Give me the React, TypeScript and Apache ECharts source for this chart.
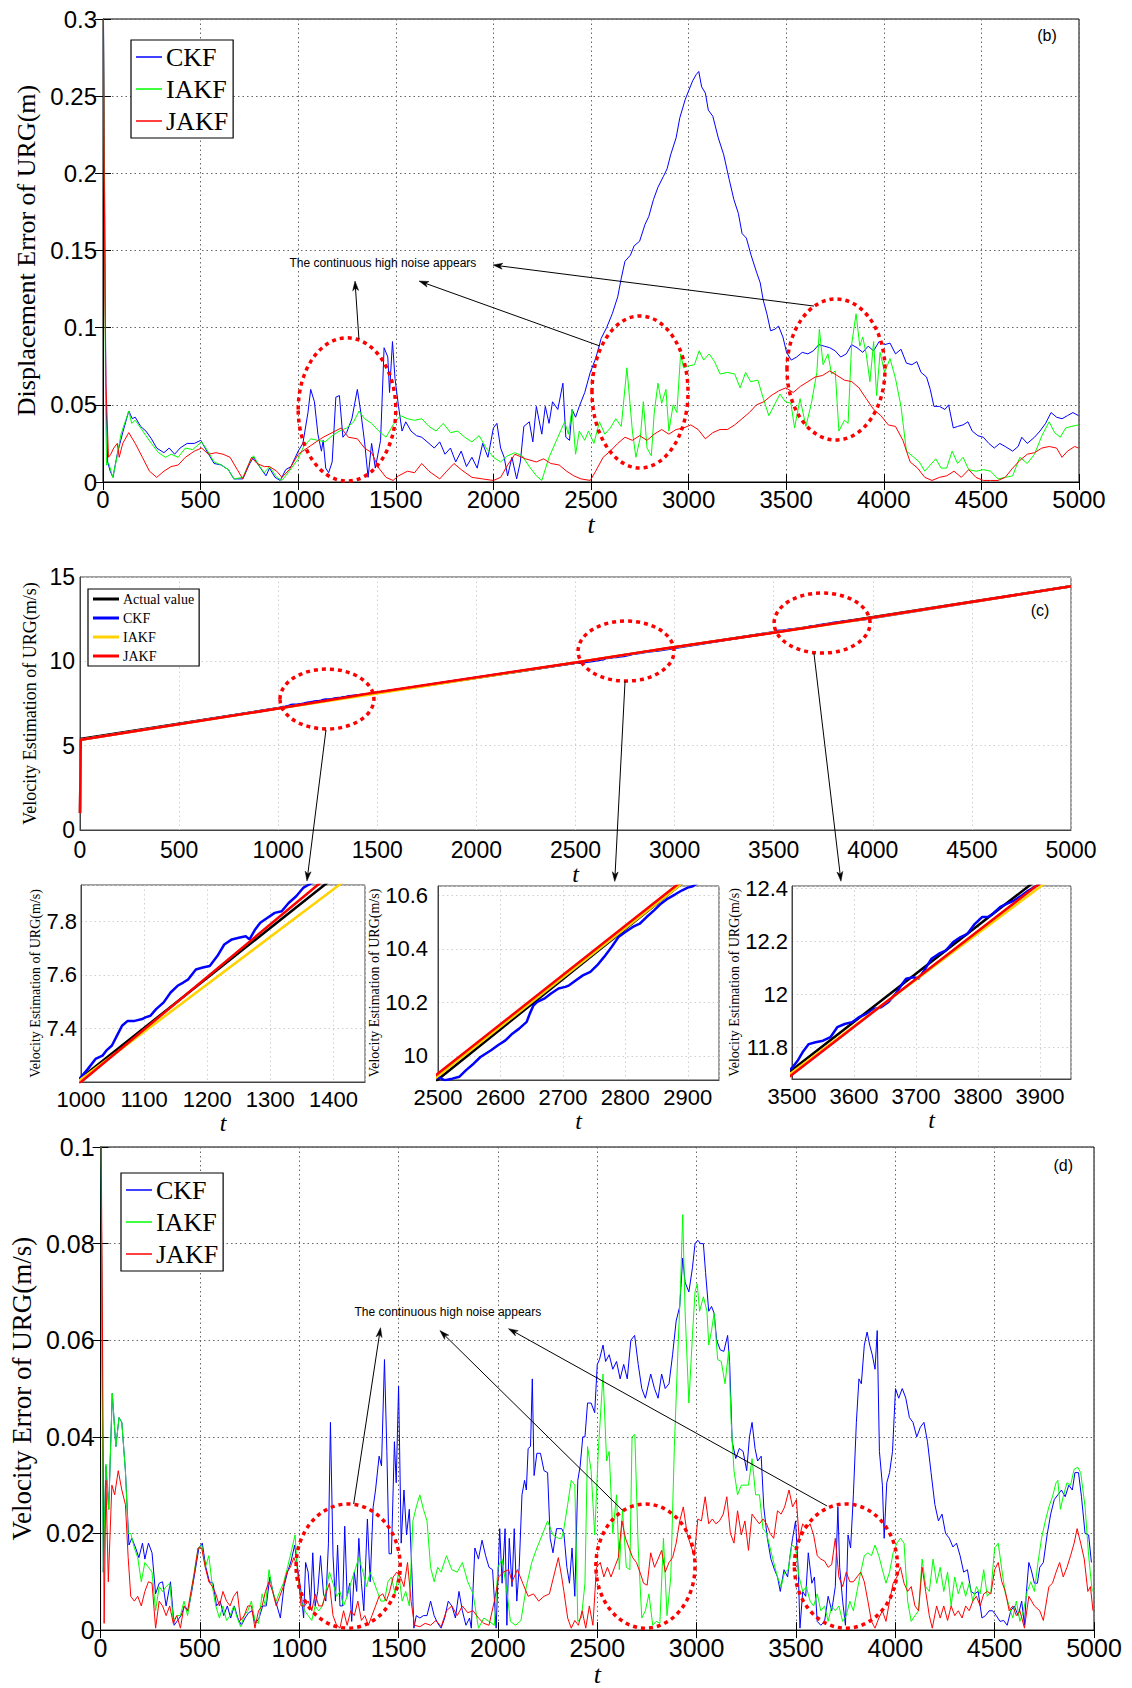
import React, { useEffect, useRef } from "react";
import * as echarts from "echarts";

type Pt = [number, number];

// ---------------- Panel (b): displacement error of URG (m) ----------------
const ckfDisp: Pt[] = [[0,0.35],[15,0.056],[24,0.013],[37,0.007],[51,0.003],[73,0.018],[101,0.032],[132,0.046],[150,0.041],[165,0.042],[193,0.036],[220,0.033],[248,0.028],[275,0.022],[312,0.019],[339,0.022],[367,0.018],[395,0.022],[431,0.025],[468,0.025],[501,0.027],[532,0.020],[569,0.012],[606,0.011],[642,0.008],[670,0.002],[716,0.002],[752,0.012],[771,0.016],[807,0.009],[835,0.004],[853,0.009],[881,0.003],[908,0.001],[936,0.008],[963,0.010],[1000,0.020],[1024,0.025],[1037,0.035],[1050,0.045],[1064,0.060],[1083,0.052],[1101,0.031],[1119,0.020],[1128,0.027],[1141,0.009],[1156,0.006],[1174,0.013],[1193,0.055],[1211,0.056],[1229,0.029],[1248,0.032],[1275,0.041],[1303,0.060],[1321,0.045],[1340,0.026],[1358,0.003],[1376,0.025],[1395,0.009],[1422,0.027],[1440,0.087],[1459,0.081],[1468,0.058],[1483,0.091],[1496,0.067],[1514,0.049],[1532,0.033],[1551,0.039],[1578,0.033],[1606,0.030],[1633,0.029],[1670,0.025],[1697,0.022],[1725,0.026],[1752,0.018],[1780,0.022],[1807,0.013],[1835,0.020],[1862,0.010],[1890,0.016],[1917,0.009],[1945,0.025],[1972,0.016],[2000,0.035],[2018,0.038],[2037,0.022],[2055,0.016],[2073,0.004],[2095,0.016],[2119,0.002],[2138,0.013],[2156,0.036],[2184,0.039],[2202,0.026],[2220,0.049],[2248,0.031],[2266,0.049],[2285,0.038],[2303,0.052],[2330,0.047],[2356,0.064],[2371,0.029],[2390,0.027],[2403,0.047],[2421,0.042],[2440,0.049],[2468,0.058],[2496,0.071],[2524,0.080],[2552,0.093],[2580,0.100],[2609,0.109],[2637,0.120],[2655,0.132],[2674,0.143],[2702,0.147],[2721,0.153],[2749,0.156],[2777,0.167],[2796,0.172],[2820,0.183],[2843,0.191],[2871,0.198],[2890,0.203],[2908,0.212],[2936,0.223],[2955,0.236],[2983,0.248],[3002,0.254],[3021,0.260],[3039,0.264],[3052,0.266],[3067,0.256],[3086,0.252],[3101,0.241],[3124,0.237],[3152,0.223],[3180,0.212],[3208,0.196],[3232,0.183],[3255,0.174],[3274,0.161],[3296,0.158],[3320,0.147],[3348,0.136],[3367,0.129],[3382,0.118],[3401,0.109],[3420,0.098],[3442,0.099],[3461,0.101],[3483,0.094],[3502,0.084],[3526,0.079],[3554,0.081],[3582,0.084],[3611,0.083],[3639,0.085],[3667,0.089],[3695,0.088],[3723,0.087],[3751,0.085],[3779,0.081],[3808,0.083],[3835,0.089],[3863,0.087],[3892,0.084],[3920,0.088],[3948,0.085],[3976,0.091],[4004,0.089],[4032,0.090],[4060,0.083],[4088,0.086],[4116,0.077],[4144,0.076],[4169,0.078],[4191,0.071],[4219,0.068],[4238,0.060],[4257,0.049],[4285,0.049],[4313,0.047],[4332,0.050],[4356,0.035],[4378,0.036],[4406,0.037],[4431,0.039],[4453,0.033],[4482,0.030],[4510,0.029],[4538,0.025],[4566,0.022],[4594,0.025],[4622,0.023],[4660,0.020],[4688,0.023],[4707,0.029],[4735,0.025],[4772,0.029],[4800,0.033],[4829,0.038],[4857,0.045],[4885,0.042],[4913,0.041],[4941,0.043],[4969,0.045],[4997,0.043]];

const iakfDisp: Pt[] = [[0,0.35],[13,0.058],[18,0.011],[30,0.012],[50,0.003],[70,0.015],[92,0.031],[119,0.041],[132,0.046],[147,0.038],[165,0.040],[193,0.035],[220,0.030],[248,0.025],[284,0.019],[321,0.016],[349,0.018],[385,0.016],[422,0.022],[459,0.021],[505,0.026],[532,0.021],[569,0.013],[606,0.011],[642,0.008],[670,0.002],[716,0.003],[752,0.013],[771,0.017],[798,0.011],[826,0.006],[853,0.010],[890,0.003],[917,0.001],[954,0.007],[1000,0.015],[1028,0.023],[1064,0.028],[1101,0.027],[1138,0.026],[1174,0.030],[1211,0.033],[1248,0.035],[1284,0.039],[1312,0.046],[1340,0.041],[1376,0.038],[1413,0.033],[1450,0.029],[1486,0.037],[1523,0.043],[1560,0.041],[1596,0.040],[1633,0.041],[1670,0.036],[1706,0.033],[1743,0.038],[1780,0.032],[1817,0.033],[1853,0.029],[1890,0.026],[1927,0.030],[1963,0.022],[2000,0.016],[2037,0.013],[2073,0.017],[2110,0.019],[2147,0.017],[2184,0.010],[2220,0.004],[2248,0.001],[2285,0.016],[2330,0.029],[2365,0.039],[2384,0.031],[2403,0.047],[2421,0.018],[2440,0.033],[2468,0.027],[2487,0.033],[2515,0.025],[2543,0.039],[2571,0.031],[2599,0.035],[2627,0.041],[2655,0.036],[2684,0.074],[2712,0.033],[2730,0.016],[2753,0.029],[2768,0.052],[2787,0.022],[2809,0.017],[2824,0.045],[2843,0.064],[2862,0.051],[2884,0.060],[2899,0.033],[2921,0.050],[2940,0.045],[2959,0.083],[2974,0.074],[2993,0.075],[3030,0.076],[3054,0.085],[3077,0.079],[3105,0.083],[3133,0.078],[3161,0.070],[3199,0.071],[3236,0.070],[3264,0.061],[3292,0.071],[3318,0.065],[3355,0.066],[3383,0.054],[3411,0.043],[3440,0.050],[3468,0.057],[3496,0.052],[3524,0.051],[3543,0.035],[3571,0.054],[3601,0.036],[3629,0.051],[3657,0.071],[3670,0.099],[3689,0.076],[3714,0.083],[3732,0.070],[3751,0.072],[3770,0.033],[3798,0.040],[3817,0.038],[3835,0.089],[3858,0.109],[3877,0.088],[3892,0.094],[3910,0.083],[3929,0.065],[3948,0.091],[3963,0.056],[3981,0.084],[4004,0.071],[4032,0.080],[4060,0.067],[4088,0.049],[4116,0.020],[4154,0.016],[4182,0.013],[4210,0.007],[4238,0.011],[4266,0.015],[4294,0.009],[4322,0.009],[4350,0.020],[4378,0.012],[4406,0.016],[4435,0.008],[4472,0.007],[4510,0.008],[4547,0.007],[4585,0.002],[4622,0.003],[4660,0.004],[4697,0.016],[4735,0.012],[4772,0.018],[4810,0.030],[4847,0.039],[4875,0.032],[4904,0.029],[4932,0.035],[4960,0.036],[4997,0.037]];

const jakfDisp: Pt[] = [[0,0.35],[10,0.12],[15,0.064],[28,0.016],[40,0.018],[55,0.022],[73,0.025],[83,0.016],[101,0.025],[132,0.032],[165,0.025],[202,0.016],[238,0.007],[275,0.003],[312,0.007],[349,0.010],[385,0.011],[422,0.016],[468,0.020],[505,0.022],[541,0.018],[578,0.019],[615,0.018],[651,0.016],[688,0.008],[716,0.002],[761,0.016],[789,0.012],[826,0.010],[853,0.010],[890,0.007],[917,0.003],[954,0.008],[1000,0.018],[1046,0.022],[1092,0.026],[1128,0.029],[1174,0.032],[1220,0.035],[1257,0.029],[1303,0.028],[1340,0.022],[1376,0.019],[1413,0.009],[1450,0.003],[1486,0.001],[1514,0.004],[1560,0.007],[1596,0.006],[1633,0.012],[1670,0.007],[1725,0.002],[1761,0.007],[1798,0.012],[1835,0.008],[1890,0.003],[1945,0.002],[2000,0.001],[2037,0.003],[2073,0.011],[2110,0.018],[2165,0.015],[2220,0.013],[2257,0.015],[2294,0.012],[2337,0.011],[2375,0.007],[2412,0.004],[2449,0.002],[2496,0.001],[2524,0.007],[2562,0.016],[2599,0.020],[2637,0.025],[2674,0.029],[2712,0.027],[2749,0.030],[2787,0.027],[2824,0.031],[2862,0.034],[2899,0.031],[2936,0.034],[2974,0.035],[3011,0.037],[3049,0.034],[3086,0.028],[3124,0.032],[3161,0.034],[3199,0.034],[3236,0.037],[3274,0.041],[3311,0.045],[3348,0.050],[3386,0.052],[3423,0.056],[3461,0.059],[3498,0.061],[3536,0.058],[3573,0.062],[3611,0.065],[3648,0.068],[3686,0.069],[3723,0.072],[3761,0.069],[3798,0.066],[3836,0.065],[3873,0.061],[3910,0.054],[3948,0.047],[3985,0.043],[4023,0.037],[4060,0.036],[4098,0.027],[4135,0.013],[4173,0.009],[4210,0.003],[4247,0.001],[4285,0.003],[4322,0.004],[4360,0.007],[4397,0.003],[4435,0.008],[4472,0.003],[4510,0.001],[4547,0.001],[4585,0.001],[4622,0.003],[4660,0.009],[4697,0.014],[4735,0.018],[4772,0.019],[4810,0.022],[4847,0.023],[4885,0.022],[4913,0.016],[4941,0.020],[4978,0.023],[4997,0.022]];

// ---------------- Panel (c): velocity estimation of URG (m/s) ----------------
const actualVel: Pt[] = [[0,5.4],[1000,7.215],[1450,8.055],[2500,9.912],[2885,10.634],[3500,11.714],[3882,12.41],[5000,14.45]];
const ckfVel: Pt[] = [[0,1.0],[4,5.35],[1000,7.218],[1011,7.249],[1023,7.286],[1034,7.298],[1040,7.317],[1049,7.336],[1057,7.373],[1065,7.41],[1074,7.428],[1085,7.428],[1097,7.435],[1102,7.441],[1110,7.447],[1119,7.472],[1131,7.497],[1142,7.534],[1153,7.559],[1162,7.571],[1170,7.583],[1182,7.62],[1193,7.627],[1204,7.633],[1216,7.67],[1227,7.713],[1239,7.732],[1250,7.738],[1261,7.744],[1267,7.732],[1276,7.769],[1284,7.794],[1295,7.812],[1307,7.831],[1318,7.837],[1329,7.868],[1341,7.893],[1352,7.924],[1360,7.935],[1450,8.05],[2500,9.922],[2511,9.909],[2523,9.915],[2534,9.922],[2545,9.947],[2557,9.971],[2568,9.996],[2585,10.021],[2596,10.04],[2608,10.058],[2619,10.083],[2630,10.102],[2642,10.127],[2647,10.158],[2653,10.189],[2659,10.202],[2670,10.214],[2681,10.233],[2693,10.252],[2704,10.258],[2710,10.264],[2721,10.283],[2732,10.301],[2744,10.314],[2755,10.339],[2766,10.37],[2778,10.407],[2789,10.444],[2800,10.463],[2812,10.482],[2823,10.494],[2834,10.519],[2846,10.544],[2857,10.569],[2868,10.588],[2880,10.604],[2891,10.619],[2900,10.629],[2908,10.634],[2950,10.7],[3500,11.722],[3509,11.749],[3517,11.781],[3527,11.812],[3538,11.819],[3550,11.825],[3562,11.838],[3573,11.876],[3585,11.888],[3597,11.895],[3608,11.914],[3620,11.926],[3632,11.945],[3643,11.951],[3655,11.97],[3667,12.002],[3678,12.04],[3684,12.059],[3696,12.065],[3704,12.059],[3713,12.09],[3725,12.135],[3737,12.154],[3748,12.166],[3760,12.198],[3772,12.217],[3783,12.229],[3795,12.267],[3807,12.293],[3816,12.293],[3824,12.305],[3836,12.331],[3847,12.343],[3859,12.356],[3871,12.375],[3882,12.394],[3894,12.41],[3950,12.48],[5000,14.45]];
const iakfVel: Pt[] = [[0,1.0],[4,5.35],[1000,7.21],[1409,7.935],[1450,8.01],[2500,9.925],[2885,10.634],[2950,10.75],[3500,11.705],[3902,12.41],[3950,12.49],[5000,14.45]];
const jakfVel: Pt[] = [[0,1.0],[4,5.35],[1000,7.2],[1375,7.935],[1450,8.08],[2500,9.934],[2880,10.634],[2950,10.76],[3500,11.696],[3894,12.41],[3950,12.51],[5000,14.45]];

// ---------------- Panel (d): velocity error of URG (m/s) ----------------
const ckfVelErr: Pt[] = [[0,0.12],[14,0.012],[27,0.034],[41,0.025],[59,0.049],[77,0.038],[93,0.044],[107,0.043],[125,0.033],[143,0.0176],[157,0.019],[175,0.0172],[193,0.015],[211,0.018],[223,0.0147],[241,0.018],[259,0.016],[277,0.0075],[295,0.0097],[312,0.010],[330,0.005],[352,0.010],[370,0.001],[388,0.002],[405,0.003],[423,0.005],[441,0.004],[459,0.008],[477,0.0125],[495,0.017],[512,0.018],[530,0.013],[548,0.010],[566,0.0097],[584,0.005],[602,0.006],[620,0.003],[638,0.005],[655,0.0025],[673,0.005],[691,0.0025],[709,0.001],[727,0.0025],[745,0.0036],[763,0.004],[780,0.0014],[798,0.0025],[816,0.005],[834,0.005],[852,0.011],[870,0.0075],[888,0.005],[905,0.0025],[923,0.009],[941,0.012],[959,0.0143],[977,0.0176],[991,0.013],[1009,0.008],[1022,0.0025],[1032,0.014],[1045,0.012],[1057,0.005],[1068,0.016],[1080,0.005],[1093,0.008],[1107,0.0154],[1122,0.0075],[1134,0.006],[1147,0.018],[1157,0.043],[1170,0.0154],[1182,0.006],[1193,0.0176],[1205,0.005],[1218,0.005],[1229,0.0215],[1241,0.007],[1254,0.0097],[1264,0.0018],[1277,0.012],[1289,0.008],[1300,0.019],[1313,0.0097],[1325,0.004],[1343,0.023],[1357,0.010],[1372,0.0255],[1384,0.029],[1402,0.036],[1414,0.034],[1429,0.056],[1441,0.037],[1452,0.0158],[1464,0.0158],[1479,0.039],[1488,0.0305],[1500,0.0505],[1513,0.018],[1527,0.029],[1540,0.0197],[1554,0.025],[1566,0.013],[1577,0.0004],[1589,0.003],[1607,0.0025],[1625,0.003],[1643,0.003],[1661,0.006],[1679,0.003],[1697,0.0014],[1714,0.0004],[1732,0.0025],[1750,0.006],[1768,0.005],[1786,0.0025],[1804,0.008],[1821,0.004],[1839,0.001],[1857,0.0025],[1866,0.0004],[1884,0.017],[1902,0.0147],[1920,0.0186],[1938,0.0154],[1955,0.013],[1973,0.0125],[1991,0.0004],[2009,0.021],[2021,0.0097],[2036,0.021],[2045,0.001],[2057,0.019],[2071,0.009],[2082,0.021],[2095,0.006],[2107,0.013],[2121,0.028],[2134,0.031],[2143,0.029],[2152,0.0376],[2164,0.038],[2173,0.052],[2182,0.032],[2196,0.0366],[2214,0.0366],[2232,0.033],[2250,0.0326],[2263,0.019],[2277,0.016],[2295,0.021],[2321,0.021],[2332,0.020],[2347,0.013],[2360,0.0097],[2373,0.017],[2387,0.007],[2402,0.031],[2414,0.034],[2427,0.040],[2438,0.040],[2451,0.047],[2469,0.047],[2487,0.045],[2500,0.055],[2511,0.056],[2529,0.059],[2542,0.0556],[2560,0.057],[2578,0.054],[2597,0.0556],[2615,0.052],[2633,0.055],[2651,0.052],[2669,0.060],[2688,0.061],[2706,0.055],[2724,0.050],[2742,0.048],[2769,0.053],[2788,0.050],[2806,0.048],[2824,0.053],[2842,0.050],[2861,0.051],[2879,0.057],[2897,0.064],[2915,0.067],[2930,0.077],[2942,0.072],[2961,0.070],[2979,0.075],[2992,0.080],[3006,0.0807],[3020,0.080],[3034,0.080],[3045,0.074],[3061,0.066],[3075,0.067],[3088,0.0656],[3101,0.060],[3119,0.058],[3137,0.0577],[3156,0.061],[3166,0.0556],[3179,0.039],[3197,0.0355],[3215,0.0376],[3234,0.037],[3252,0.033],[3266,0.040],[3279,0.043],[3294,0.0376],[3307,0.035],[3325,0.036],[3338,0.0255],[3356,0.019],[3374,0.0147],[3392,0.0125],[3407,0.011],[3421,0.008],[3440,0.0125],[3458,0.011],[3470,0.0154],[3483,0.019],[3498,0.0226],[3512,0.012],[3520,0.0004],[3534,0.008],[3549,0.007],[3562,0.016],[3580,0.0097],[3593,0.011],[3607,0.0018],[3625,0.001],[3644,0.0018],[3662,0.007],[3680,0.004],[3698,0.009],[3711,0.0255],[3720,0.013],[3735,0.006],[3749,0.001],[3762,0.0197],[3775,0.017],[3789,0.028],[3804,0.043],[3817,0.052],[3829,0.051],[3844,0.059],[3858,0.0617],[3871,0.059],[3884,0.057],[3898,0.054],[3909,0.062],[3920,0.037],[3935,0.030],[3944,0.019],[3957,0.0305],[3971,0.0326],[3986,0.037],[4001,0.050],[4017,0.048],[4035,0.050],[4053,0.048],[4071,0.044],[4089,0.043],[4108,0.040],[4126,0.042],[4144,0.043],[4162,0.039],[4180,0.0326],[4199,0.026],[4217,0.0226],[4235,0.024],[4253,0.020],[4272,0.019],[4290,0.0172],[4308,0.018],[4326,0.0154],[4344,0.012],[4363,0.0125],[4381,0.008],[4399,0.0075],[4417,0.008],[4436,0.0025],[4454,0.003],[4472,0.004],[4490,0.004],[4508,0.003],[4527,0.0018],[4545,0.002],[4563,0.001],[4581,0.004],[4599,0.005],[4618,0.003],[4636,0.006],[4650,0.001],[4660,0.008],[4672,0.014],[4684,0.0125],[4700,0.0097],[4715,0.0097],[4727,0.013],[4745,0.014],[4764,0.0197],[4782,0.024],[4800,0.027],[4818,0.028],[4836,0.029],[4855,0.0276],[4873,0.030],[4891,0.029],[4904,0.0326],[4922,0.0326],[4937,0.0276],[4955,0.020],[4973,0.0197],[4987,0.014]];

const iakfVelErr: Pt[] = [[0,0.12],[14,0.012],[27,0.0344],[41,0.025],[59,0.049],[77,0.038],[93,0.044],[107,0.043],[125,0.033],[139,0.020],[152,0.020],[170,0.017],[187,0.015],[205,0.010],[223,0.014],[241,0.013],[259,0.012],[277,0.004],[295,0.009],[312,0.008],[330,0.009],[348,0.0097],[366,0.002],[384,0.003],[402,0.003],[420,0.006],[438,0.003],[455,0.0075],[473,0.0125],[491,0.017],[509,0.0176],[527,0.013],[545,0.0154],[563,0.009],[580,0.005],[598,0.0025],[616,0.005],[634,0.002],[652,0.003],[670,0.005],[688,0.0025],[705,0.0007],[723,0.003],[741,0.004],[759,0.006],[777,0.002],[795,0.0014],[813,0.0075],[830,0.005],[848,0.0125],[866,0.008],[884,0.006],[902,0.008],[920,0.0097],[938,0.0125],[955,0.0154],[979,0.0197],[991,0.012],[1009,0.006],[1027,0.004],[1045,0.003],[1063,0.002],[1080,0.005],[1098,0.004],[1116,0.005],[1134,0.008],[1152,0.012],[1170,0.0097],[1188,0.007],[1205,0.008],[1223,0.005],[1241,0.007],[1259,0.0097],[1277,0.012],[1300,0.015],[1321,0.012],[1339,0.009],[1357,0.012],[1375,0.010],[1393,0.008],[1411,0.006],[1429,0.006],[1446,0.010],[1464,0.011],[1482,0.0075],[1500,0.012],[1518,0.006],[1536,0.008],[1554,0.005],[1572,0.0226],[1589,0.0255],[1607,0.028],[1625,0.025],[1643,0.0226],[1661,0.013],[1679,0.010],[1697,0.013],[1714,0.012],[1741,0.0154],[1768,0.0125],[1795,0.012],[1821,0.014],[1848,0.010],[1875,0.0075],[1902,0.0004],[1929,0.0025],[1955,0.0018],[1982,0.001],[2000,0.013],[2021,0.0147],[2045,0.008],[2063,0.0018],[2089,0.001],[2116,0.002],[2143,0.009],[2170,0.014],[2196,0.017],[2223,0.0197],[2250,0.0226],[2277,0.0197],[2304,0.019],[2321,0.019],[2332,0.021],[2351,0.026],[2369,0.031],[2387,0.030],[2402,0.0018],[2420,0.0025],[2438,0.0097],[2451,0.038],[2469,0.033],[2487,0.0197],[2505,0.037],[2529,0.053],[2547,0.035],[2560,0.037],[2578,0.020],[2597,0.028],[2611,0.0125],[2627,0.025],[2646,0.013],[2664,0.0125],[2675,0.040],[2689,0.0405],[2706,0.017],[2724,0.0025],[2742,0.004],[2760,0.0075],[2779,0.001],[2797,0.0018],[2815,0.0014],[2833,0.019],[2851,0.003],[2870,0.011],[2888,0.038],[2906,0.058],[2919,0.071],[2930,0.086],[2942,0.066],[2961,0.047],[2979,0.061],[2992,0.070],[3003,0.0717],[3015,0.066],[3034,0.069],[3052,0.066],[3061,0.059],[3075,0.062],[3088,0.0656],[3106,0.056],[3124,0.0556],[3143,0.051],[3161,0.0577],[3174,0.043],[3188,0.033],[3206,0.028],[3225,0.030],[3243,0.030],[3261,0.030],[3279,0.0355],[3297,0.028],[3316,0.028],[3334,0.021],[3352,0.020],[3370,0.017],[3388,0.014],[3407,0.011],[3425,0.009],[3443,0.012],[3461,0.0125],[3479,0.0176],[3498,0.017],[3516,0.011],[3534,0.008],[3552,0.009],[3571,0.006],[3589,0.005],[3607,0.0075],[3625,0.004],[3644,0.005],[3662,0.0018],[3680,0.005],[3698,0.004],[3716,0.005],[3735,0.0018],[3753,0.003],[3771,0.006],[3789,0.004],[3807,0.008],[3826,0.012],[3844,0.0154],[3862,0.016],[3880,0.0154],[3898,0.0176],[3917,0.0154],[3935,0.0125],[3953,0.0097],[3971,0.012],[3989,0.016],[4008,0.018],[4026,0.019],[4044,0.018],[4062,0.006],[4080,0.0018],[4099,0.003],[4117,0.004],[4135,0.0147],[4153,0.009],[4171,0.008],[4190,0.0147],[4208,0.0097],[4226,0.013],[4244,0.008],[4263,0.012],[4281,0.005],[4299,0.011],[4317,0.0075],[4336,0.010],[4354,0.007],[4372,0.0097],[4390,0.006],[4408,0.009],[4427,0.0075],[4445,0.0125],[4463,0.007],[4481,0.008],[4500,0.017],[4518,0.018],[4536,0.0125],[4554,0.0075],[4573,0.005],[4591,0.0025],[4609,0.006],[4627,0.0018],[4645,0.004],[4664,0.008],[4682,0.010],[4700,0.008],[4718,0.014],[4736,0.019],[4755,0.0226],[4773,0.0255],[4791,0.0276],[4809,0.0305],[4818,0.031],[4831,0.025],[4845,0.0276],[4864,0.0305],[4882,0.030],[4900,0.0333],[4918,0.0337],[4933,0.0326],[4955,0.0255],[4973,0.0154],[4991,0.008]];

const jakfVelErr: Pt[] = [[0,0.12],[10,0.06],[18,0.0014],[27,0.031],[39,0.010],[57,0.030],[71,0.028],[89,0.033],[107,0.029],[125,0.026],[139,0.015],[152,0.007],[170,0.006],[187,0.007],[205,0.005],[223,0.008],[241,0.010],[259,0.0097],[277,0.0004],[295,0.006],[312,0.005],[330,0.003],[348,0.005],[366,0.0014],[384,0.003],[402,0.0004],[420,0.005],[438,0.004],[455,0.008],[473,0.012],[491,0.017],[509,0.017],[527,0.013],[545,0.010],[563,0.009],[580,0.0075],[598,0.005],[616,0.008],[634,0.006],[652,0.005],[670,0.007],[688,0.008],[705,0.002],[723,0.003],[741,0.005],[759,0.005],[777,0.0004],[795,0.004],[813,0.005],[830,0.008],[848,0.010],[866,0.008],[884,0.005],[902,0.007],[920,0.009],[938,0.012],[955,0.013],[973,0.015],[991,0.013],[1009,0.005],[1027,0.005],[1045,0.006],[1063,0.004],[1080,0.0075],[1098,0.005],[1116,0.005],[1134,0.0075],[1152,0.0097],[1170,0.003],[1188,0.001],[1205,0.0004],[1223,0.004],[1241,0.001],[1259,0.004],[1277,0.003],[1295,0.006],[1313,0.002],[1330,0.003],[1348,0.001],[1366,0.003],[1384,0.005],[1402,0.007],[1420,0.0075],[1438,0.006],[1455,0.008],[1473,0.011],[1491,0.012],[1509,0.011],[1527,0.009],[1545,0.014],[1563,0.006],[1580,0.001],[1607,0.0007],[1634,0.0014],[1661,0.001],[1688,0.002],[1714,0.0007],[1741,0.004],[1768,0.005],[1795,0.003],[1821,0.005],[1848,0.0036],[1875,0.004],[1902,0.0025],[1929,0.0014],[1955,0.001],[1982,0.006],[2004,0.011],[2027,0.012],[2054,0.0125],[2071,0.010],[2098,0.0125],[2125,0.0097],[2152,0.007],[2179,0.0075],[2205,0.006],[2232,0.007],[2259,0.0075],[2286,0.012],[2304,0.015],[2321,0.011],[2332,0.008],[2351,0.0025],[2369,0.0004],[2387,0.002],[2405,0.001],[2424,0.004],[2442,0.0004],[2460,0.005],[2478,0.001],[2496,0.013],[2515,0.014],[2533,0.011],[2551,0.013],[2569,0.011],[2587,0.013],[2606,0.015],[2624,0.0226],[2642,0.019],[2660,0.017],[2678,0.015],[2697,0.014],[2715,0.012],[2733,0.0097],[2751,0.0093],[2769,0.016],[2788,0.013],[2806,0.0147],[2824,0.0165],[2842,0.012],[2861,0.014],[2879,0.015],[2897,0.018],[2915,0.0226],[2933,0.0255],[2952,0.020],[2970,0.0176],[2988,0.0154],[3006,0.023],[3024,0.0226],[3043,0.0276],[3061,0.022],[3079,0.023],[3097,0.022],[3115,0.0226],[3134,0.024],[3152,0.0276],[3170,0.020],[3188,0.018],[3206,0.0247],[3225,0.0197],[3243,0.0226],[3261,0.0165],[3279,0.024],[3297,0.023],[3316,0.022],[3334,0.023],[3352,0.022],[3370,0.020],[3388,0.019],[3407,0.0247],[3425,0.024],[3443,0.0255],[3465,0.029],[3483,0.0255],[3502,0.027],[3516,0.019],[3534,0.022],[3552,0.021],[3571,0.022],[3589,0.0197],[3607,0.0154],[3625,0.0147],[3644,0.0143],[3662,0.013],[3680,0.0136],[3698,0.019],[3716,0.011],[3735,0.009],[3753,0.012],[3771,0.010],[3789,0.010],[3807,0.011],[3826,0.012],[3844,0.010],[3862,0.006],[3880,0.0018],[3898,0.0004],[3917,0.0025],[3935,0.004],[3953,0.0018],[3971,0.006],[3989,0.0097],[4008,0.011],[4026,0.013],[4044,0.0097],[4062,0.008],[4080,0.009],[4099,0.005],[4117,0.004],[4135,0.013],[4153,0.008],[4171,0.003],[4186,0.0004],[4208,0.005],[4226,0.0025],[4244,0.005],[4263,0.002],[4281,0.005],[4299,0.003],[4317,0.004],[4336,0.0025],[4354,0.005],[4372,0.004],[4390,0.006],[4408,0.007],[4427,0.005],[4445,0.0075],[4463,0.008],[4481,0.0075],[4500,0.0125],[4518,0.014],[4536,0.010],[4554,0.008],[4573,0.004],[4591,0.005],[4609,0.003],[4627,0.004],[4650,0.0004],[4672,0.007],[4700,0.005],[4727,0.004],[4745,0.002],[4773,0.009],[4791,0.0097],[4809,0.012],[4827,0.014],[4845,0.011],[4864,0.013],[4882,0.0154],[4900,0.018],[4915,0.021],[4933,0.018],[4951,0.0147],[4969,0.008],[4982,0.009],[4995,0.004]];

// ---------------- Tick labels ----------------
const sub1XTicks = [1000, 1100, 1200, 1300, 1400];
const sub1YTicks = [7.4, 7.6, 7.8];
const sub2XTicks = [2500, 2600, 2700, 2800, 2900];
const sub2YTicks = [10, 10.2, 10.4, 10.6];
const sub3XTicks = [3500, 3600, 3700, 3800, 3900];
const sub3YTicks = [11.8, 12, 12.2, 12.4];

// ---------------- Annotations (data coordinates of each grid) ----------------
const noteText = "The continuous high noise appears";
// [grid, t0, t1, v0, v1]
const noiseEllipses: number[][] = [
  [0, 1000, 1500, 0.0006, 0.0934],
  [0, 2505, 2997, 0.0091, 0.1076],
  [0, 3504, 4006, 0.0272, 0.1186],
  [1, 1009, 1483, 5.99, 9.54],
  [1, 2513, 2997, 8.83, 12.39],
  [1, 3502, 3986, 10.49, 14.05],
  [5, 984, 1508, 0.0004, 0.0261],
  [5, 2493, 2992, 0.0004, 0.0261],
  [5, 3492, 4011, 0.0004, 0.0261],
];
// [fromGrid, t, v, toGrid, t, v]  (arrow head at the second point)
const noteArrows: number[][] = [
  [0, 1311, 0.0927, 0, 1291, 0.1302],
  [0, 2546, 0.0881, 0, 1619, 0.1302],
  [0, 3642, 0.114, 0, 1998, 0.1406],
  [1, 1241, 5.93, 2, 1358, 7.95],
  [1, 2750, 8.83, 3, 2783, 10.652],
  [1, 3703, 10.49, 4, 3579, 12.428],
  [5, 1274, 0.0261, 5, 1409, 0.0626],
  [5, 2627, 0.0248, 5, 1708, 0.062],
  [5, 3656, 0.0257, 5, 2053, 0.0624],
];
// [grid, t, v, text, size]
const noteLabels: any[] = [
  [0, 1434, 0.1419, noteText, 12],
  [5, 1748, 0.0659, noteText, 12],
  [0, 4836, 0.289, "(b)", 16],
  [1, 4844, 13.0, "(c)", 16],
  [5, 4845, 0.0961, "(d)", 16],
];

const SANS = '"Liberation Sans", Arial, Helvetica, sans-serif';
const NARROW = '"Liberation Sans Narrow", "Arial Narrow", "Liberation Sans", sans-serif';
const SERIF = '"Liberation Serif", "Times New Roman", Times, serif';

const BLUE = "#0000ff";
const GREEN = "#00ff00";
const RED = "#ff0000";
const YELLOW = "#ffd200";
const BLACK = "#000000";

const gridBoxes = [
  { left: 103, top: 19, width: 976, height: 463, border: "#000" },
  { left: 80, top: 577, width: 991, height: 253, border: "#444" },
  { left: 81, top: 885, width: 284, height: 197, border: "#444" },
  { left: 438, top: 886, width: 281, height: 194, border: "#444" },
  { left: 792, top: 886, width: 279, height: 193, border: "#444" },
  { left: 93, top: 1147, width: 1001, height: 487, border: "#000" },
];

const darkDots = { show: true, lineStyle: { type: [1.5, 3] as any, color: "#666", width: 1 } };
const lightDots = { show: true, lineStyle: { type: [1.5, 3] as any, color: "#cfcfcf", width: 1 } };

const plain = (v: number) => String(v);

const tName = (gap: number, size = 26) => ({
  name: "t",
  nameLocation: "middle",
  nameGap: gap,
  nameTextStyle: { fontFamily: SERIF, fontStyle: "italic", fontSize: size, color: "#000" },
});

const pick = (ticks: number[]) => (v: number) => {
  const hit = ticks.find((t) => Math.abs(t - v) < 1e-6);
  return hit === undefined ? "" : String(hit);
};

function bigX(grid: number, gap: number, size: number) {
  return {
    type: "value", gridIndex: grid, min: 0, max: 5000, interval: 500,
    axisLine: { show: true, onZero: false, lineStyle: { color: "#000", width: 1 } },
    axisTick: { show: true, inside: true, length: 8, lineStyle: { color: "#000" } },
    axisLabel: { fontSize: size, color: "#000", fontFamily: SANS, margin: 5, formatter: plain },
    splitLine: darkDots,
    ...tName(gap),
  };
}
function bigY(grid: number, max: number, interval: number, name: string, gap: number, size: number, labelSize: number) {
  return {
    type: "value", gridIndex: grid, min: 0, max, interval,
    axisLine: { show: true, onZero: false, lineStyle: { color: "#000", width: 1 } },
    axisTick: { show: true, inside: true, length: 8, lineStyle: { color: "#000" } },
    axisLabel: { fontSize: labelSize, color: "#000", fontFamily: SANS, margin: 6, formatter: plain },
    splitLine: darkDots,
    name, nameLocation: "middle", nameGap: gap,
    nameTextStyle: { fontFamily: SERIF, fontSize: size, color: "#000" },
  };
}
function mirrorX(grid: number) {
  return {
    type: "value", gridIndex: grid, position: "top", min: 0, max: 5000, interval: 500,
    axisLine: { show: false }, axisLabel: { show: false }, splitLine: { show: false },
    axisTick: { show: true, inside: true, length: 8, lineStyle: { color: "#000" } },
  };
}
function mirrorY(grid: number, max: number, interval: number) {
  return {
    type: "value", gridIndex: grid, position: "right", min: 0, max, interval,
    axisLine: { show: false }, axisLabel: { show: false }, splitLine: { show: false },
    axisTick: { show: true, inside: true, length: 8, lineStyle: { color: "#000" } },
  };
}
function subX(grid: number, min: number, ticks: number[]) {
  return {
    type: "value", gridIndex: grid, min, max: min + 450, interval: 100,
    axisLine: { show: true, onZero: false, lineStyle: { color: "#444" } },
    axisTick: { show: false },
    axisLabel: { fontSize: 22, color: "#000", fontFamily: NARROW, margin: 6, formatter: pick(ticks) },
    splitLine: lightDots,
    ...tName(22, 24),
  };
}
function subY(grid: number, min: number, max: number, ticks: number[], gap: number, margin: number) {
  return {
    type: "value", gridIndex: grid, min, max, splitNumber: 4,
    axisLine: { show: true, onZero: false, lineStyle: { color: "#444" } },
    axisTick: { show: false },
    axisLabel: { fontSize: 22, color: "#000", fontFamily: NARROW, margin, formatter: pick(ticks) },
    splitLine: lightDots,
    name: "Velocity Estimation of URG(m/s)", nameLocation: "middle", nameGap: gap,
    nameTextStyle: { fontFamily: SERIF, fontSize: 14, color: "#000" },
  };
}

function line(name: string, data: Pt[], axis: number, color: string, width: number, z = 2) {
  return {
    type: "line", name, data, xAxisIndex: axis, yAxisIndex: axis,
    showSymbol: false, symbol: "none", clip: true, z,
    lineStyle: { color, width }, itemStyle: { color },
    emphasis: { disabled: true },
  };
}

function legendBox(left: number, top: number, names: string[], fontSize: number, iconH: number, gap: number, pad: number[]) {
  return {
    left, top, orient: "vertical", selectedMode: false,
    data: names.map((n) => ({ name: n, icon: "rect" })),
    formatter: (n: string) => n.split("_")[0],
    itemWidth: 26, itemHeight: iconH, itemGap: gap, padding: pad,
    borderColor: "#000", borderWidth: 1.2, backgroundColor: "#fff",
    textStyle: { fontFamily: SERIF, fontSize, color: "#000", padding: [0, 0, 0, -1] },
  };
}

function buildOption(): any {
  const grid = gridBoxes.map((g) => ({
    left: g.left, top: g.top, width: g.width, height: g.height,
    show: true, borderColor: g.border, borderWidth: 1, backgroundColor: "transparent",
  }));
  const xAxis = [
    bigX(0, 27, 24),
    {
      type: "value", gridIndex: 1, min: 0, max: 5000, interval: 500,
      axisLine: { show: true, onZero: false, lineStyle: { color: "#444" } },
      axisTick: { show: false },
      axisLabel: { fontSize: 23, color: "#000", fontFamily: SANS, margin: 8, formatter: plain },
      splitLine: lightDots,
      ...tName(28, 24),
    },
    subX(2, 1000, sub1XTicks),
    subX(3, 2500, sub2XTicks),
    subX(4, 3500, sub3XTicks),
    bigX(5, 28, 25),
    mirrorX(0),
    mirrorX(5),
  ];
  const yAxis = [
    bigY(0, 0.3, 0.05, "Displacement Error of URG(m)", 58, 26, 24),
    {
      type: "value", gridIndex: 1, min: 0, max: 15, interval: 5,
      axisLine: { show: true, onZero: false, lineStyle: { color: "#444" } },
      axisTick: { show: false },
      axisLabel: { fontSize: 23, color: "#000", fontFamily: SANS, margin: 5, formatter: plain },
      splitLine: lightDots,
      name: "Velocity Estimation of URG(m/s)", nameLocation: "middle", nameGap: 35,
      nameTextStyle: { fontFamily: SERIF, fontSize: 18, color: "#000" },
    },
    subY(2, 7.2, 7.935, sub1YTicks, 36, 4),
    subY(3, 9.91, 10.635, sub2YTicks, 48, 10),
    subY(4, 11.68, 12.41, sub3YTicks, 47, 4),
    bigY(5, 0.1, 0.02, "Velocity Error of URG(m/s)", 61, 27, 25),
    mirrorY(0, 0.3, 0.05),
    mirrorY(5, 0.1, 0.02),
  ];

  const series: any[] = [
    line("CKF_b", ckfDisp, 0, BLUE, 1),
    line("IAKF_b", iakfDisp, 0, GREEN, 1),
    line("JAKF_b", jakfDisp, 0, RED, 1),
  ];
  [1, 2, 3, 4].forEach((a) => {
    const sfx = a === 1 ? "_c" : "_s" + a;
    series.push(line("Actual value" + sfx, actualVel, a, BLACK, 2.5));
    series.push(line("CKF" + sfx, ckfVel, a, BLUE, 2.5));
    series.push(line("IAKF" + sfx, iakfVel, a, YELLOW, 2.5));
    series.push(line("JAKF" + sfx, jakfVel, a, RED, 2.5));
  });
  series.push(line("CKF_d", ckfVelErr, 5, BLUE, 1));
  series.push(line("IAKF_d", iakfVelErr, 5, GREEN, 1));
  series.push(line("JAKF_d", jakfVelErr, 5, RED, 1));

  return {
    animation: false,
    backgroundColor: "#fff",
    textStyle: { fontFamily: SANS },
    grid, xAxis, yAxis, series,
    legend: [
      legendBox(131, 40, ["CKF_b", "IAKF_b", "JAKF_b"], 26, 1.5, 6, [4, 5, 4, 5]),
      legendBox(88, 589, ["Actual value_c", "CKF_c", "IAKF_c", "JAKF_c"], 14, 3, 5, [3, 5, 3, 5]),
      legendBox(121, 1173, ["CKF_d", "IAKF_d", "JAKF_d"], 26, 1.5, 6, [4, 5, 4, 5]),
    ],
  };
}

function buildGraphic(chart: any): any[] {
  const px = (g: number, t: number, v: number): number[] =>
    chart.convertToPixel({ gridIndex: g }, [t, v]);
  const els: any[] = [];
  noiseEllipses.forEach(([g, t0, t1, v0, v1]) => {
    const a = px(g, t0, v1);
    const b = px(g, t1, v0);
    els.push({
      type: "ellipse", silent: true, z: 100,
      shape: { cx: (a[0] + b[0]) / 2, cy: (a[1] + b[1]) / 2, rx: Math.abs(b[0] - a[0]) / 2, ry: Math.abs(b[1] - a[1]) / 2 },
      style: { fill: "none", stroke: RED, lineWidth: 3.5, lineDash: [4, 4] },
    });
  });
  noteArrows.forEach(([g1, t1, v1, g2, t2, v2]) => {
    const s = px(g1, t1, v1);
    const e = px(g2, t2, v2);
    const ang = Math.atan2(e[1] - s[1], e[0] - s[0]);
    const L = 10, th = 0.3;
    const l = [e[0] - L * Math.cos(ang - th), e[1] - L * Math.sin(ang - th)];
    const r = [e[0] - L * Math.cos(ang + th), e[1] - L * Math.sin(ang + th)];
    const n = [e[0] - 0.7 * L * Math.cos(ang), e[1] - 0.7 * L * Math.sin(ang)];
    els.push({
      type: "line", silent: true, z: 101,
      shape: { x1: s[0], y1: s[1], x2: n[0], y2: n[1] },
      style: { stroke: "#000", lineWidth: 1 },
    });
    els.push({
      type: "polygon", silent: true, z: 101,
      shape: { points: [e, l, n, r] },
      style: { fill: "#000", stroke: "#000", lineWidth: 0.5 },
    });
  });
  noteLabels.forEach(([g, t, v, text, size]) => {
    const p = px(g, t, v);
    els.push({
      type: "text", silent: true, z: 102, x: p[0], y: p[1],
      style: { text, fontSize: size, fontFamily: SANS, fill: "#000", align: "center", verticalAlign: "middle" },
    });
  });
  return els;
}

export default function App() {
  const ref = useRef<HTMLDivElement>(null);
  useEffect(() => {
    if (!ref.current) return;
    const chart = echarts.init(ref.current, undefined, { renderer: "svg" });
    chart.setOption(buildOption());
    chart.setOption({ graphic: buildGraphic(chart) });
    return () => chart.dispose();
  }, []);
  return (
    <div
      ref={ref}
      style={{ position: "absolute", left: 0, top: 0, width: 1132, height: 1688, background: "#fff" }}
    />
  );
}
